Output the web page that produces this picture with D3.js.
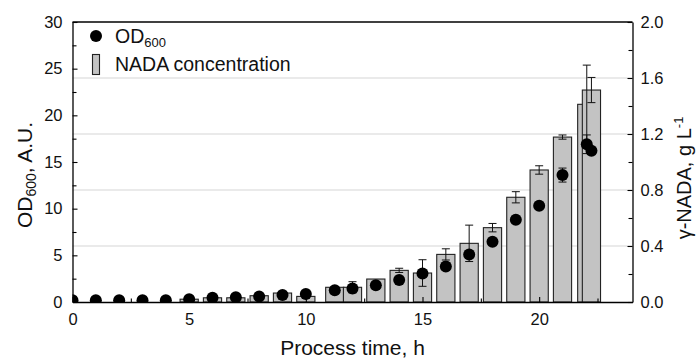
<!DOCTYPE html>
<html>
<head>
<meta charset="utf-8">
<script src="https://cdn.jsdelivr.net/npm/d3@7"></script>
<style>
  html, body { margin: 0; padding: 0; background: #fff; }
  svg { display: block; font-family: Arial, "Liberation Sans", sans-serif; }
</style>
</head>
<body>
<svg id="chart" width="697" height="362"></svg>
<script>
// Optical density (left axis) sampled over the fermentation
const odTime  = [0, 1, 2, 3, 4, 5, 6, 7, 8, 9, 10, 11.24, 12, 13, 14, 15, 16, 17, 18, 19, 20, 21, 22.04, 22.24];
const odValue = [0.2, 0.2, 0.2, 0.2, 0.2, 0.3, 0.45, 0.5, 0.6, 0.75, 0.85, 1.25, 1.45, 1.8, 2.35, 3.05, 3.8, 5.1, 6.45, 8.8, 10.3, 13.6, 16.9, 16.2];
const odError = [0, 0, 0, 0, 0, 0, 0, 0, 0, 0, 0, 0, 0, 0, 0, 0, 0, 0, 0, 0, 0, 0.75, 1.0, 0];

// γ-NADA concentration (right axis, g/L)
const nadaTime  = [5, 6, 7, 8, 9, 10, 11.24, 12, 13, 14, 15, 16, 17, 18, 19, 20, 21, 22.04, 22.24];
const nadaValue = [0.02, 0.03, 0.03, 0.045, 0.064, 0.04, 0.105, 0.105, 0.164, 0.226, 0.207, 0.34, 0.419, 0.531, 0.748, 0.943, 1.178, 1.412, 1.514];
const nadaError = [0, 0, 0, 0, 0, 0, 0, 0.04, 0, 0.015, 0.095, 0.04, 0.13, 0.03, 0.04, 0.03, 0.015, 0.28, 0.09];

// Axis ticks
const xTicks = [0, 5, 10, 15, 20];
const xMinorTicks = [2.5, 7.5, 12.5, 17.5, 22.5];
const yLeftTicks = [0, 5, 10, 15, 20, 25, 30];
const yLeftMinorTicks = [2.5, 7.5, 12.5, 17.5, 22.5, 27.5];
const yRightTicks = [0, 0.4, 0.8, 1.2, 1.6, 2.0];
const yRightMinorTicks = [0.2, 0.6, 1.0, 1.4, 1.8];
const gridValues = [0.4, 0.8, 1.2, 1.6];

const svg = d3.select("#chart");
const plotLeft = 72.5, plotRight = 632.5, plotTop = 22, plotBottom = 302;
const barWidthHours = 0.78;

const x = d3.scaleLinear().domain([0, 24]).range([plotLeft, plotRight]);
const yL = d3.scaleLinear().domain([0, 30]).range([plotBottom, plotTop]);
const yR = d3.scaleLinear().domain([0, 2]).range([plotBottom, plotTop]);

svg.append("defs").append("clipPath").attr("id", "plot-clip")
  .append("rect").attr("x", plotLeft).attr("y", plotTop)
  .attr("width", plotRight - plotLeft).attr("height", plotBottom - plotTop);

// light horizontal grid tied to the concentration axis
svg.append("g").selectAll("line").data(gridValues).join("line")
  .attr("x1", plotLeft).attr("x2", plotRight)
  .attr("y1", d => yR(d)).attr("y2", d => yR(d))
  .attr("stroke", "#d6d6d6").attr("stroke-width", 1.2);

const plot = svg.append("g").attr("clip-path", "url(#plot-clip)");

// concentration bars
const bw = x(barWidthHours) - x(0);
plot.append("g").selectAll("rect").data(nadaTime).join("rect")
  .attr("x", (d) => x(d) - bw / 2)
  .attr("y", (d, i) => yR(nadaValue[i]))
  .attr("width", bw)
  .attr("height", (d, i) => yR(0) - yR(nadaValue[i]))
  .attr("fill", "#c3c3c3")
  .attr("stroke", "#222")
  .attr("stroke-width", 1.1);

// error bars helper
function errorBars(g, times, vals, errs, yScale) {
  const data = times.map((t, i) => ({ t, v: vals[i], e: errs[i] })).filter(d => d.e > 0);
  const cap = 4;
  const grp = g.append("g").attr("stroke", "#111").attr("stroke-width", 1);
  grp.selectAll(".stem").data(data).join("line")
    .attr("x1", d => x(d.t)).attr("x2", d => x(d.t))
    .attr("y1", d => yScale(d.v - d.e)).attr("y2", d => yScale(d.v + d.e));
  grp.selectAll(".capTop").data(data).join("line")
    .attr("x1", d => x(d.t) - cap).attr("x2", d => x(d.t) + cap)
    .attr("y1", d => yScale(d.v + d.e)).attr("y2", d => yScale(d.v + d.e));
  grp.selectAll(".capBot").data(data).join("line")
    .attr("x1", d => x(d.t) - cap).attr("x2", d => x(d.t) + cap)
    .attr("y1", d => yScale(d.v - d.e)).attr("y2", d => yScale(d.v - d.e));
}
errorBars(plot, nadaTime, nadaValue, nadaError, yR);
errorBars(plot, odTime, odValue, odError, yL);

// OD points
plot.append("g").selectAll("circle").data(odTime).join("circle")
  .attr("cx", d => x(d))
  .attr("cy", (d, i) => yL(odValue[i]))
  .attr("r", 6)
  .attr("fill", "#000");

// axes
const tickFont = "16.5px";
function styleAxis(g) {
  g.selectAll("path.domain").attr("stroke", "#000").attr("stroke-width", 1.3);
  g.selectAll(".tick line").attr("stroke", "#000").attr("stroke-width", 1.1);
  g.selectAll("text").attr("font-size", tickFont).attr("fill", "#111")
    .attr("font-family", "Arial, 'Liberation Sans', sans-serif");
}

svg.append("g").attr("transform", `translate(0,${plotBottom})`)
  .call(d3.axisBottom(x).tickValues(xTicks).tickSize(-5).tickSizeOuter(0).tickPadding(11).tickFormat(d3.format("d")))
  .call(styleAxis);
svg.append("g").attr("transform", `translate(0,${plotBottom})`)
  .call(d3.axisBottom(x).tickValues(xMinorTicks).tickSize(-3.5).tickSizeOuter(0).tickFormat(""))
  .call(styleAxis).call(g => g.select(".domain").remove());

svg.append("g").attr("transform", `translate(${plotLeft},0)`)
  .call(d3.axisLeft(yL).tickValues(yLeftTicks).tickSize(-5).tickSizeOuter(0).tickPadding(10).tickFormat(d3.format("d")))
  .call(styleAxis);
svg.append("g").attr("transform", `translate(${plotLeft},0)`)
  .call(d3.axisLeft(yL).tickValues(yLeftMinorTicks).tickSize(-4).tickSizeOuter(0).tickFormat(""))
  .call(styleAxis).call(g => g.select(".domain").remove());

svg.append("g").attr("transform", `translate(${plotRight},0)`)
  .call(d3.axisRight(yR).tickValues(yRightTicks).tickSize(-5).tickSizeOuter(0).tickPadding(8).tickFormat(d3.format(".1f")))
  .call(styleAxis);
svg.append("g").attr("transform", `translate(${plotRight},0)`)
  .call(d3.axisRight(yR).tickValues(yRightMinorTicks).tickSize(-4).tickSizeOuter(0).tickFormat(""))
  .call(styleAxis).call(g => g.select(".domain").remove());

// top frame line
svg.append("line").attr("x1", plotLeft).attr("x2", plotRight).attr("y1", plotTop).attr("y2", plotTop)
  .attr("stroke", "#000").attr("stroke-width", 1.3);

// axis titles
const titleFont = "21px";
svg.append("text").attr("x", (plotLeft + plotRight) / 2).attr("y", 355)
  .attr("text-anchor", "middle").attr("font-size", titleFont).attr("fill", "#111")
  .text("Process time, h");

const yTitle = svg.append("text")
  .attr("transform", "translate(32,175) rotate(-90)")
  .attr("text-anchor", "middle").attr("font-size", titleFont).attr("fill", "#111");
yTitle.append("tspan").text("OD");
yTitle.append("tspan").attr("font-size", "14px").attr("dy", 4).text("600");
yTitle.append("tspan").attr("dy", -4).text(", A.U.");

const rTitle = svg.append("text")
  .attr("transform", "translate(691,178) rotate(-90)")
  .attr("text-anchor", "middle").attr("font-size", "20px").attr("fill", "#111");
rTitle.append("tspan").text("γ-NADA, g L");
rTitle.append("tspan").attr("font-size", "13px").attr("dy", -8).text("-1");

// legend
const legend = svg.append("g");
legend.append("circle").attr("cx", 96).attr("cy", 36).attr("r", 6).attr("fill", "#000");
const l1 = legend.append("text").attr("x", 115).attr("y", 42.5).attr("font-size", "19.5px").attr("fill", "#111");
l1.append("tspan").text("OD");
l1.append("tspan").attr("font-size", "13px").attr("dy", 4).text("600");
legend.append("rect").attr("x", 92.5).attr("y", 54.5).attr("width", 7).attr("height", 20)
  .attr("fill", "#c3c3c3").attr("stroke", "#222").attr("stroke-width", 1.1);
legend.append("text").attr("x", 115).attr("y", 70.5).attr("font-size", "19.5px").attr("fill", "#111")
  .text("NADA concentration");
</script>
</body>
</html>
